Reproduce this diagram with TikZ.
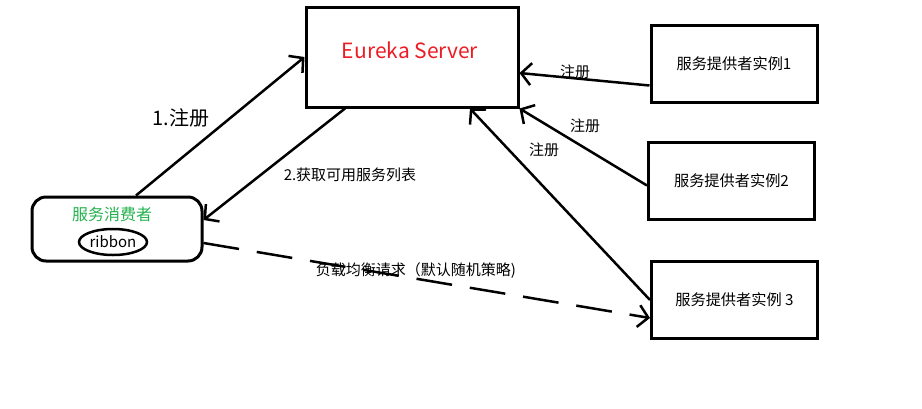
\documentclass[tikz,border=0pt]{standalone}
\usepackage{fontspec}
\setmainfont{Noto Sans CJK SC}
\usetikzlibrary{arrows.meta,shapes.geometric}
\definecolor{eurekared}{RGB}{237,28,36}
\definecolor{consumergreen}{RGB}{34,177,76}

\begin{document}
\begin{tikzpicture}[x=1pt,y=-1pt,
  box/.style={draw,line width=3pt,inner sep=0pt},
  provider/.style={box,minimum width=166pt,minimum height=77pt,font=\fontsize{15.2}{17}\selectfont},
  link/.style={line width=2.5pt,-{Straight Barb[length=10pt,width=22pt,line width=2.5pt]}},
  lbl/.style={font=\fontsize{15}{17}\selectfont}]
  \useasboundingbox (0,0) rectangle (922,408);

  \node[box,minimum width=212pt,minimum height=100pt] (server) at (412,57) {};
  \node[text=eurekared,font=\fontsize{21}{24}\selectfont] (servertext) at (410,50) {Eureka Server};

  \node[provider] (prov1) at (734,63.5) {服务提供者实例1};
  \node[provider] (prov2) at (731.5,180.5) {服务提供者实例2};
  \node[provider] (prov3) at (734.5,300) {服务提供者实例 3};

  \node[box,rounded corners=14pt,minimum width=170pt,minimum height=64pt] (consumer) at (117,229) {};
  \node[text=consumergreen,font=\fontsize{16}{18}\selectfont] (consumertext) at (112,214) {服务消费者};
  \node[draw,ellipse,line width=2.5pt,inner sep=0pt,minimum width=68pt,minimum height=26pt,
    font=\fontsize{15}{17}\selectfont] (ribbon) at (113,242) {ribbon};

  % consumer <-> server
  \draw[link] ([xshift=19]consumer.north) -- (server.west);
  \node[font=\fontsize{20}{22}\selectfont] (reg) at (181,118) {1.注册};
  \draw[link] ([xshift=-67]server.south) -- ([yshift=9]consumer.east);
  \node[lbl] (fetch) at (350,175) {2.获取可用服务列表};

  % providers register
  \draw[link] ([yshift=-22]prov1.west) -- ([yshift=-16]server.east);
  \node[lbl] (reg1) at (575,72) {注册};
  \draw[link] ([yshift=-5]prov2.west) -- (server.south east);
  \node[lbl] (reg2) at (585,126) {注册};
  \draw[link] (prov3.west) -- ([xshift=58]server.south);
  \node[lbl] (reg3) at (544,150) {注册};

  % load balanced call
  \draw[link,dash pattern=on 36pt off 18pt] ([yshift=-14]consumer.east) -- ([yshift=-18]prov3.west);
  \node[lbl] (lb) at (416,271) {负载均衡请求（默认随机策略)};
\end{tikzpicture}
\end{document}
